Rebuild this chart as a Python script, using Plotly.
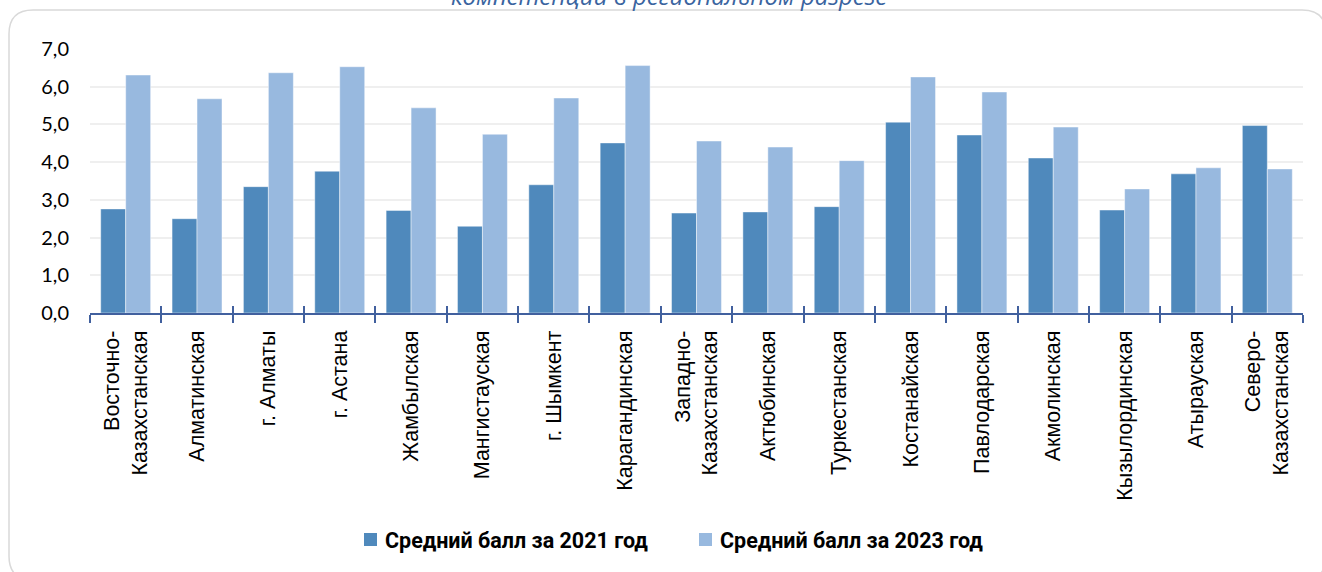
import plotly.graph_objects as go

# Regions (x categories) and the average score for each survey year
regions = [
    "Восточно-<br>Казахстанская", "Алматинская", "г. Алматы", "г. Астана",
    "Жамбылская", "Мангистауская", "г. Шымкент", "Карагандинская",
    "Западно-<br>Казахстанская", "Актюбинская", "Туркестанская",
    "Костанайская", "Павлодарская", "Акмолинская", "Кызылординская",
    "Атырауская", "Северо-<br>Казахстанская",
]
avg_2021 = [2.76, 2.50, 3.35, 3.76, 2.72, 2.30, 3.40, 4.51, 2.65, 2.68,
            2.82, 5.06, 4.72, 4.11, 2.73, 3.69, 4.97]
avg_2023 = [6.31, 5.68, 6.37, 6.53, 5.44, 4.74, 5.70, 6.56, 4.56, 4.40,
            4.04, 6.26, 5.86, 4.93, 3.29, 3.85, 3.82]
series_names = ["Средний балл за 2021 год", "Средний балл за 2023 год"]
y_ticks = [0, 1, 2, 3, 4, 5, 6, 7]
title_tail = "компетенций в региональном разрезе"

C_DARK = "#4F89BC"
C_LIGHT = "#98B9DF"
C_AXIS = "#41609E"

W, H = 1322, 572
# plot area in pixels
L, R, T, B = 90, 1303, 49, 313


def fx(px):
    return (px - L) / (R - L)


def fy(py):
    return (B - py) / (B - T)


fig = go.Figure()
for vals, name, col in [(avg_2021, series_names[0], C_DARK),
                        (avg_2023, series_names[1], C_LIGHT)]:
    fig.add_trace(go.Bar(
        x=regions, y=vals, name=name, marker_color=col,
        marker_line=dict(color="rgba(255,255,255,0.45)", width=1),
        showlegend=False,
    ))

# invisible helper trace so the overlay axis carries the same categories
fig.add_trace(go.Scatter(
    x=regions, y=[0] * len(regions), xaxis="x2", mode="markers",
    marker=dict(opacity=0), hoverinfo="skip", showlegend=False,
))

# rounded card border
x0, y0, x1, y1, r = 9, 10, 1326, 580, 24
card = (f"M {fx(x0 + r)},{fy(y0)} L {fx(x1 - r)},{fy(y0)} "
        f"Q {fx(x1)},{fy(y0)} {fx(x1)},{fy(y0 + r)} "
        f"L {fx(x1)},{fy(y1 - r)} Q {fx(x1)},{fy(y1)} {fx(x1 - r)},{fy(y1)} "
        f"L {fx(x0 + r)},{fy(y1)} Q {fx(x0)},{fy(y1)} {fx(x0)},{fy(y1 - r)} "
        f"L {fx(x0)},{fy(y0 + r)} Q {fx(x0)},{fy(y0)} {fx(x0 + r)},{fy(y0)} Z")
shapes = [dict(type="path", path=card, xref="paper", yref="paper",
               line=dict(color="#D9D9D9", width=1.5), layer="below")]

# legend: colour squares + bold labels
legend_items = [(364, 383, C_DARK, series_names[0]),
                (699, 718, C_LIGHT, series_names[1])]
annotations = []
for sq_x, tx, col, name in legend_items:
    shapes.append(dict(type="rect", xref="paper", yref="paper",
                       x0=fx(sq_x), x1=fx(sq_x + 13), y0=fy(533), y1=fy(546),
                       fillcolor=col, line=dict(width=0)))
    annotations.append(dict(
        x=fx(tx), y=fy(540), xref="paper", yref="paper",
        xanchor="left", yanchor="middle", showarrow=False, text=f"<b>{name}</b>",
        font=dict(family="Roboto, Noto Sans, sans-serif", size=21.5, color="#000000"),
    ))

# partially visible chart heading above the card
annotations.append(dict(
    x=fx(669), y=fy(14), xref="paper", yref="paper", xanchor="center",
    yanchor="bottom", showarrow=False, text=f"<i>{title_tail}</i>",
    font=dict(family="Open Sans, sans-serif", size=24, color="#3A64A0"),
))

fig.update_layout(
    width=W, height=H,
    margin=dict(l=L, r=W - R, t=T, b=H - B, autoexpand=False),
    paper_bgcolor="white", plot_bgcolor="white",
    barmode="group", bargap=0.30, bargroupgap=0.0,
    separators=", ",
    shapes=shapes, annotations=annotations,
    xaxis=dict(
        type="category", range=[-0.5, len(regions) - 0.5],
        showline=True, linecolor=C_AXIS, linewidth=2,
        ticks="outside", ticklen=8, tickwidth=2, tickcolor=C_AXIS,
        tickson="boundaries", tickangle=-90, showgrid=False,
        ticklabelstandoff=7,
        tickfont=dict(family="Liberation Sans, Arial, sans-serif", size=21.5, color="#000000"),
    ),
    xaxis2=dict(
        type="category", overlaying="x", anchor="y",
        range=[-0.5, len(regions) - 0.5],
        ticks="inside", ticklen=7, tickwidth=2, tickcolor=C_AXIS,
        tickson="boundaries", showticklabels=False, showline=False, showgrid=False,
    ),
    yaxis=dict(
        range=[0, 7], tickvals=y_ticks, tickformat=".1f",
        showgrid=True, gridcolor="#EFEFEF", gridwidth=2,
        showline=False, zeroline=False, ticks="",
        ticklabelstandoff=20,
        tickfont=dict(family="Lato, Open Sans, sans-serif", size=20, color="#000000"),
    ),
)

fig.write_html("out.html")
